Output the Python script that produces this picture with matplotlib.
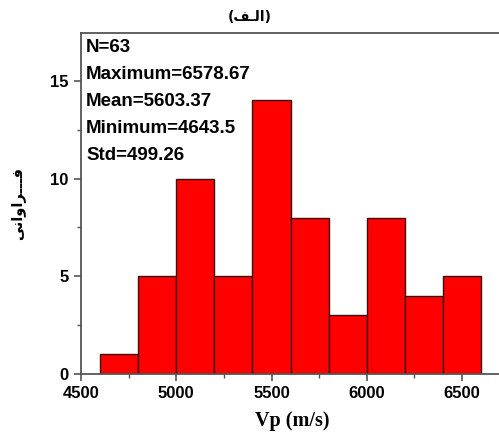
import matplotlib
matplotlib.use("Agg")
import matplotlib.pyplot as plt
from matplotlib.ticker import MultipleLocator

# histogram of Vp, bins of 200 m/s
bin_edges = [4600, 4800, 5000, 5200, 5400, 5600, 5800, 6000, 6200, 6400, 6600]
counts = [1, 5, 10, 5, 14, 8, 3, 8, 4, 5]
stats_lines = ["N=63", "Maximum=6578.67", "Mean=5603.37", "Minimum=4643.5", "Std=499.26"]

# Arabic text written in presentation forms, visual order
title_txt = "(\uFED2\u0640\uFEDF\uFE8D)"
ylabel_txt = "\uFBFD\uFEE7\uFE8D\uFEED\uFE8D\uFEAE\u0640\u0640\u0640\uFED3"

fig = plt.figure(figsize=(4.99, 4.37), dpi=100)
ax = fig.add_axes([0.1623, 0.1442, 0.8377 + 0.01, 0.9245 - 0.1442])

widths = [bin_edges[i + 1] - bin_edges[i] for i in range(len(counts))]
ax.bar(bin_edges[:-1], counts, width=widths, align="edge",
       color="#ff0000", edgecolor="#3a1010", linewidth=1.0)

ax.set_xlim(4500, 6720)
ax.set_ylim(0, 17.45)
ax.xaxis.set_major_locator(MultipleLocator(500))
ax.xaxis.set_minor_locator(MultipleLocator(250))
ax.yaxis.set_major_locator(MultipleLocator(5))
ax.yaxis.set_minor_locator(MultipleLocator(2.5))

for s in ["left", "bottom", "top"]:
    ax.spines[s].set_color("#555555")
    ax.spines[s].set_linewidth(1.3)
ax.spines["right"].set_visible(False)

ax.tick_params(which="major", direction="out", length=5, width=1.2, color="#555555",
               labelsize=12, pad=4, top=False, right=False)
ax.tick_params(which="minor", direction="out", length=3, width=1.0, color="#555555",
               top=False, right=False)
for lab in ax.get_xticklabels() + ax.get_yticklabels():
    lab.set_fontfamily("Liberation Sans")
    lab.set_fontweight("bold")

ax.set_xlabel("Vp (m/s)", family="Liberation Serif", fontweight="bold", fontsize=14.5, labelpad=7)
ax.set_ylabel(ylabel_txt, family=["DejaVu Sans"], fontweight="bold", fontsize=10.5, labelpad=18)

fig.text(0.5, 0.962, title_txt, family=["DejaVu Sans"], fontweight="bold", fontsize=10,
         ha="center", va="center")

y0 = 0.958
for i, line in enumerate(stats_lines):
    ax.text(0.012, y0 - i * 0.079, line, transform=ax.transAxes, family="Liberation Sans",
            fontweight="bold", fontsize=13.5, ha="left", va="center")

fig.savefig("out.png", dpi=100)
